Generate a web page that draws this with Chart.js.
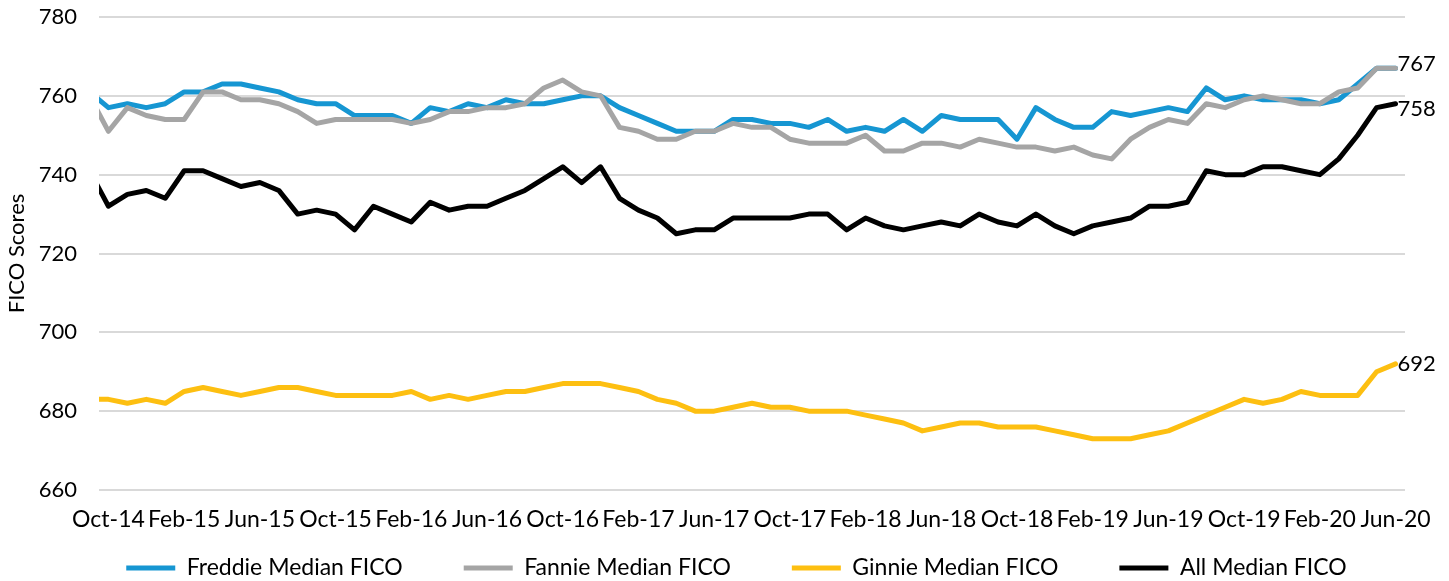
<!DOCTYPE html>
<html>
<head>
<meta charset="utf-8">
<script src="https://cdn.jsdelivr.net/npm/chart.js@4/dist/chart.umd.min.js"></script>
<style>
  html, body { margin: 0; padding: 0; background: #ffffff; }
  #wrap { width: 1449px; height: 581px; position: relative; }
</style>
</head>
<body>
<div id="wrap"><canvas id="c" width="1449" height="581"></canvas></div>
<script>
// Month categories (Sep-14 is the partially clipped point at the left edge)
const months = [
  'Sep-14','Oct-14','Nov-14','Dec-14',
  'Jan-15','Feb-15','Mar-15','Apr-15','May-15','Jun-15','Jul-15','Aug-15','Sep-15','Oct-15','Nov-15','Dec-15',
  'Jan-16','Feb-16','Mar-16','Apr-16','May-16','Jun-16','Jul-16','Aug-16','Sep-16','Oct-16','Nov-16','Dec-16',
  'Jan-17','Feb-17','Mar-17','Apr-17','May-17','Jun-17','Jul-17','Aug-17','Sep-17','Oct-17','Nov-17','Dec-17',
  'Jan-18','Feb-18','Mar-18','Apr-18','May-18','Jun-18','Jul-18','Aug-18','Sep-18','Oct-18','Nov-18','Dec-18',
  'Jan-19','Feb-19','Mar-19','Apr-19','May-19','Jun-19','Jul-19','Aug-19','Sep-19','Oct-19','Nov-19','Dec-19',
  'Jan-20','Feb-20','Mar-20','Apr-20','May-20','Jun-20'
];
const firstShownMonth = 'Oct-14';

const freddie = [761,
  757,758,757,758,761,761,763,763,762,761,759,758,
  758,755,755,755,753,757,756,758,757,759,758,758,
  759,760,760,757,755,753,751,751,751,754,754,753,
  753,752,754,751,752,751,754,751,755,754,754,754,
  749,757,754,752,752,756,755,756,757,756,762,759,
  760,759,759,759,758,759,763,767,767];
const fannie = [760,
  751,757,755,754,754,761,761,759,759,758,756,753,
  754,754,754,754,753,754,756,756,757,757,758,762,
  764,761,760,752,751,749,749,751,751,753,752,752,
  749,748,748,748,750,746,746,748,748,747,749,748,
  747,747,746,747,745,744,749,752,754,753,758,757,
  759,760,759,758,758,761,762,767,767];
const ginnie = [683,
  683,682,683,682,685,686,685,684,685,686,686,685,
  684,684,684,684,685,683,684,683,684,685,685,686,
  687,687,687,686,685,683,682,680,680,681,682,681,
  681,680,680,680,679,678,677,675,676,677,677,676,
  676,676,675,674,673,673,673,674,675,677,679,681,
  683,682,683,685,684,684,684,690,692];
const allMedian = [741,
  732,735,736,734,741,741,739,737,738,736,730,731,
  730,726,732,730,728,733,731,732,732,734,736,739,
  742,738,742,734,731,729,725,726,726,729,729,729,
  729,730,730,726,729,727,726,727,728,727,730,728,
  727,730,727,725,727,728,729,732,732,733,741,740,
  740,742,742,741,740,744,750,757,758];

const seriesNames = ['Freddie Median FICO','Fannie Median FICO','Ginnie Median FICO','All Median FICO'];
const yTicks = { min: 660, max: 780, step: 20 };
const yTitle = 'FICO Scores';

const FONT = 'Lato';

const endLabels = {
  id: 'endLabels',
  afterDatasetsDraw(chart) {
    const ctx = chart.ctx;
    chart.data.datasets.forEach((ds, i) => {
      if (!ds.endLabel) return;
      const meta = chart.getDatasetMeta(i);
      const pt = meta.data[meta.data.length - 1];
      ctx.save();
      ctx.font = '22px ' + FONT;
      ctx.fillStyle = '#000000';
      ctx.textAlign = 'left';
      ctx.textBaseline = 'middle';
      ctx.fillText(String(ds.data[ds.data.length - 1]), pt.x + 2, pt.y + ds.endLabel.dy);
      ctx.restore();
    });
  }
};

function mkDataset(label, data, color, order, endLabel) {
  return {
    label, data,
    borderColor: color, backgroundColor: color,
    borderWidth: 5, pointRadius: 0, pointHoverRadius: 0,
    tension: 0, borderJoinStyle: 'round', borderCapStyle: 'round',
    order, endLabel,
    clip: { left: 0, top: 10, right: 10, bottom: 10 }
  };
}

function zeroPad(s) { s.paddingTop = 0; s.paddingBottom = 0; s.paddingLeft = 0; s.paddingRight = 0; }

function draw() {
  new Chart(document.getElementById('c'), {
    type: 'line',
    data: {
      labels: months,
      datasets: [
        mkDataset(seriesNames[0], freddie, '#1696d2', 4, null),
        mkDataset(seriesNames[1], fannie, '#a5a5a5', 3, { dy: -4 }),
        mkDataset(seriesNames[2], ginnie, '#fdbf11', 2, { dy: 0 }),
        mkDataset(seriesNames[3], allMedian, '#000000', 1, { dy: 5 })
      ]
    },
    options: {
      responsive: false,
      animation: false,
      devicePixelRatio: 1,
      layout: { padding: { left: 24, right: 0, top: 17, bottom: -8.5 } },
      plugins: {
        tooltip: { enabled: false },
        legend: {
          position: 'bottom',
          align: 'center',
          title: { display: true, text: '', font: { size: 1 }, padding: { top: -45.7, bottom: 0 } },
          labels: {
            font: { family: FONT, size: 23 },
            color: '#000000',
            usePointStyle: true,
            pointStyle: 'line',
            pointStyleWidth: 49,
            padding: 61,
            sort: (a, b) => a.datasetIndex - b.datasetIndex
          }
        }
      },
      scales: {
        x: {
          type: 'category',
          min: firstShownMonth,
          offset: true,
          grid: { display: false, drawTicks: false },
          border: { display: false },
          ticks: {
            autoSkip: false, maxRotation: 0, minRotation: 0,
            padding: 16,
            color: '#000000',
            font: { family: FONT, size: 23 },
            callback: function (v) {
              const first = months.indexOf(firstShownMonth);
              return (v - first) % 4 === 0 ? this.getLabelForValue(v) : '';
            }
          },
          afterFit(s) { s.height = 50; zeroPad(s); }
        },
        y: {
          min: yTicks.min, max: yTicks.max,
          grid: { color: '#d9d9d9', lineWidth: 2, drawTicks: false },
          border: { display: false },
          ticks: {
            stepSize: yTicks.step, padding: 22,
            color: '#000000',
            font: { family: FONT, size: 22 }
          },
          title: {
            display: true, text: yTitle, color: '#000000',
            font: { family: FONT, size: 22 },
            padding: { top: -20.2, bottom: 0 }
          },
          afterFit(s) { s.width = 75; zeroPad(s); }
        },
        y2: {
          type: 'linear', position: 'right', display: true,
          grid: { display: false, drawTicks: false },
          border: { display: false },
          ticks: { display: false },
          afterFit(s) { s.width = 44; zeroPad(s); }
        }
      }
    },
    plugins: [endLabels]
  });
}

if (document.fonts && document.fonts.load) {
  Promise.all([document.fonts.load('22px Lato'), document.fonts.load('23px Lato')]).then(draw, draw);
} else {
  draw();
}
</script>
</body>
</html>
